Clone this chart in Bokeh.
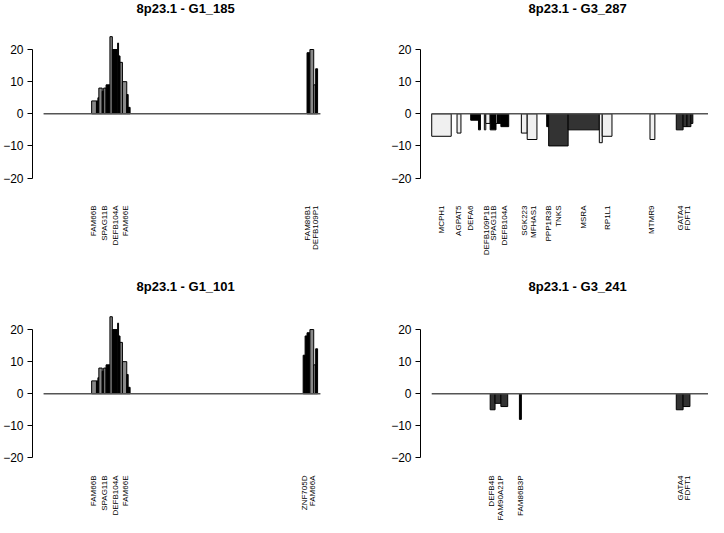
import math
from bokeh.plotting import figure
from bokeh.layouts import column, row
from bokeh.models import Range1d, FixedTicker, ColumnDataSource, Title
from bokeh.embed import file_html
from bokeh.resources import INLINE

# ---------------- data (positions in Mb along 8p23.1, values = copy-number score) -------------
REGION = [5.90, 12.35]
YTICKS = [-20, -10, 0, 10, 20]
COLORS = {"black": "#000000", "gray": "#888888", "dark": "#333333", "light": "#f0f0f0"}

g1_185_start = [7.020, 7.132, 7.166, 7.188, 7.266, 7.300, 7.356, 7.446, 7.502, 7.625, 7.647, 7.681,
                7.737, 7.838, 7.871, 12.038, 12.105, 12.194, 12.239]
g1_185_end = [7.132, 7.166, 7.188, 7.266, 7.300, 7.356, 7.446, 7.502, 7.625, 7.647, 7.681, 7.737,
              7.838, 7.871, 7.916, 12.105, 12.194, 12.239, 12.284]
g1_185_value = [4, 4, 5, 8, 7, 8, 9, 24, 20, 22, 18, 16, 10, 6, 2, 19, 20, 9, 14]
g1_185_shade = ["gray", "black", "black", "gray", "black", "gray", "black", "gray", "black", "gray",
                "black", "gray", "gray", "black", "black", "black", "gray", "gray", "black"]
g1_185_genes = ["FAM66B", "SPAG11B", "DEFB104A", "FAM66E", "FAM86B1", "DEFB109P1"]
g1_185_gene_pos = [7.065, 7.311, 7.580, 7.804, 12.060, 12.239]

g3_287_start = [5.900, 6.482, 6.796, 6.975, 7.110, 7.143, 7.244, 7.378, 7.412, 7.490, 7.961, 8.095,
                8.543, 8.588, 9.036, 9.753, 9.820, 10.918, 11.522, 11.679, 11.769, 11.858]
g3_287_end = [6.348, 6.572, 6.975, 7.020, 7.143, 7.244, 7.378, 7.412, 7.490, 7.670, 8.095, 8.319,
              8.588, 9.036, 9.753, 9.820, 10.044, 11.030, 11.679, 11.769, 11.858, 11.903]
g3_287_value = [-7, -6, -2, -5, -5, -3, -5, -3, -3, -4, -6, -8, -4, -10, -5, -9, -7, -8, -5, -4, -4, -3]
g3_287_shade = ["light", "light", "black", "black", "light", "light", "black", "light", "black", "black",
                "light", "light", "black", "dark", "dark", "light", "light", "light", "dark", "dark",
                "dark", "dark"]
g3_287_genes = ["MCPH1", "AGPAT5", "DEFA6", "DEFB109P1B", "SPAG11B", "DEFB104A", "SGK223", "MFHAS1",
                "PPP1R3B", "TNKS", "MSRA", "RP1L1", "MTMR9", "GATA4", "FDFT1"]
g3_287_gene_pos = [6.124, 6.527, 6.796, 7.154, 7.311, 7.580, 8.028, 8.230, 8.588, 8.812, 9.394,
                   9.932, 10.962, 11.612, 11.791]

g1_101_start = [7.020, 7.132, 7.166, 7.188, 7.266, 7.300, 7.356, 7.446, 7.502, 7.625, 7.647, 7.681,
                7.737, 7.838, 7.871, 11.948, 11.993, 12.038, 12.105, 12.194, 12.239]
g1_101_end = [7.132, 7.166, 7.188, 7.266, 7.300, 7.356, 7.446, 7.502, 7.625, 7.647, 7.681, 7.737,
              7.838, 7.871, 7.916, 11.993, 12.038, 12.105, 12.194, 12.239, 12.284]
g1_101_value = [4, 4, 5, 8, 7, 8, 9, 24, 20, 22, 18, 16, 10, 6, 2, 12, 18, 19, 20, 9, 14]
g1_101_shade = ["gray", "black", "black", "gray", "black", "gray", "black", "gray", "black", "gray",
                "black", "gray", "gray", "black", "black", "black", "black", "black", "gray", "gray",
                "black"]
g1_101_genes = ["FAM66B", "SPAG11B", "DEFB104A", "FAM66E", "ZNF705D", "FAM66A"]
g1_101_gene_pos = [7.065, 7.311, 7.580, 7.804, 11.970, 12.172]

g3_241_start = [7.244, 7.356, 7.490, 7.916, 11.522, 11.679]
g3_241_end = [7.356, 7.490, 7.647, 7.961, 11.679, 11.836]
g3_241_value = [-5, -3, -4, -8, -5, -4]
g3_241_shade = ["dark", "dark", "dark", "black", "dark", "dark"]
g3_241_genes = ["DEFB4B", "FAM90A21P", "FAM86B3P", "GATA4", "FDFT1"]
g3_241_gene_pos = [7.266, 7.490, 7.938, 11.612, 11.791]

FONT = "Liberation Sans"


def panel(title, start, end, value, shade, genes, gene_pos, width, height, x_range, y_range,
          b_left, b_top, b_bottom, title_offset, label_standoff):
    p = figure(width=width, height=height, output_backend="svg", toolbar_location=None,
               x_range=Range1d(*x_range), y_range=Range1d(*y_range),
               min_border_left=b_left, min_border_right=0,
               min_border_top=b_top, min_border_bottom=b_bottom, title=None)
    p.outline_line_color = None
    p.grid.visible = False
    p.background_fill_color = "white"
    p.border_fill_color = "white"

    # empty spacer keeps the bold title up near the top edge, as in the original
    p.add_layout(Title(text=" ", text_font_size="11px", standoff=0), "above")
    p.add_layout(Title(text=title, align="left", offset=title_offset, standoff=0,
                       vertical_align="top",
                       text_font=FONT, text_font_size="13px", text_font_style="bold",
                       text_color="black"), "above")

    src = ColumnDataSource(dict(left=start, right=end, top=value,
                                color=[COLORS[s] for s in shade]))
    p.quad(left="left", right="right", bottom=0, top="top", source=src,
           fill_color="color", line_color="black", line_width=1)
    p.segment(x0=[REGION[0]], y0=[0], x1=[REGION[1]], y1=[0],
              line_color="#555555", line_width=1.5)

    ya = p.yaxis[0]
    ya.ticker = FixedTicker(ticks=YTICKS)
    ya.bounds = (-20, 20)
    ya.axis_line_color = "black"
    ya.major_tick_line_color = "black"
    ya.major_tick_out = 5
    ya.major_tick_in = 0
    ya.minor_tick_line_color = None
    ya.major_label_standoff = 4
    ya.major_label_text_font = FONT
    ya.major_label_text_font_size = "12px"
    ya.major_label_text_color = "black"

    xa = p.xaxis[0]
    xa.ticker = FixedTicker(ticks=gene_pos)
    xa.major_label_overrides = {pos: g for pos, g in zip(gene_pos, genes)}
    xa.major_label_orientation = math.pi / 2
    xa.axis_line_color = None
    xa.major_tick_line_color = None
    xa.minor_tick_line_color = None
    xa.major_tick_out = 0
    xa.major_tick_in = 0
    xa.major_label_standoff = label_standoff
    xa.major_label_text_font = FONT
    xa.major_label_text_font_size = "8px"
    xa.major_label_text_color = "black"
    return p


LEFT_X = (5.642, 12.608)
RIGHT_X = (5.642, 12.263)
TOP_Y = (-22, 25.6)
BOTTOM_Y = (-20.5, 26.25)

p1 = panel("8p23.1  -  G1_185", g1_185_start, g1_185_end, g1_185_value, g1_185_shade,
           g1_185_genes, g1_185_gene_pos, 331, 278, LEFT_X, TOP_Y, 28, 31, 94, 104, 21)
p2 = panel("8p23.1  -  G3_287", g3_287_start, g3_287_end, g3_287_value, g3_287_shade,
           g3_287_genes, g3_287_gene_pos, 377, 278, RIGHT_X, TOP_Y, 89, 31, 94, 108, 21)
p3 = panel("8p23.1  -  G1_101", g1_101_start, g1_101_end, g1_101_value, g1_101_shade,
           g1_101_genes, g1_101_gene_pos, 331, 247, LEFT_X, BOTTOM_Y, 28, 31, 66, 104, 16)
p4 = panel("8p23.1  -  G3_241", g3_241_start, g3_241_end, g3_241_value, g3_241_shade,
           g3_241_genes, g3_241_gene_pos, 377, 247, RIGHT_X, BOTTOM_Y, 89, 31, 66, 108, 16)

layout = column(row(p1, p2), row(p3, p4))
open("out.html", "w").write(file_html(layout, INLINE))
